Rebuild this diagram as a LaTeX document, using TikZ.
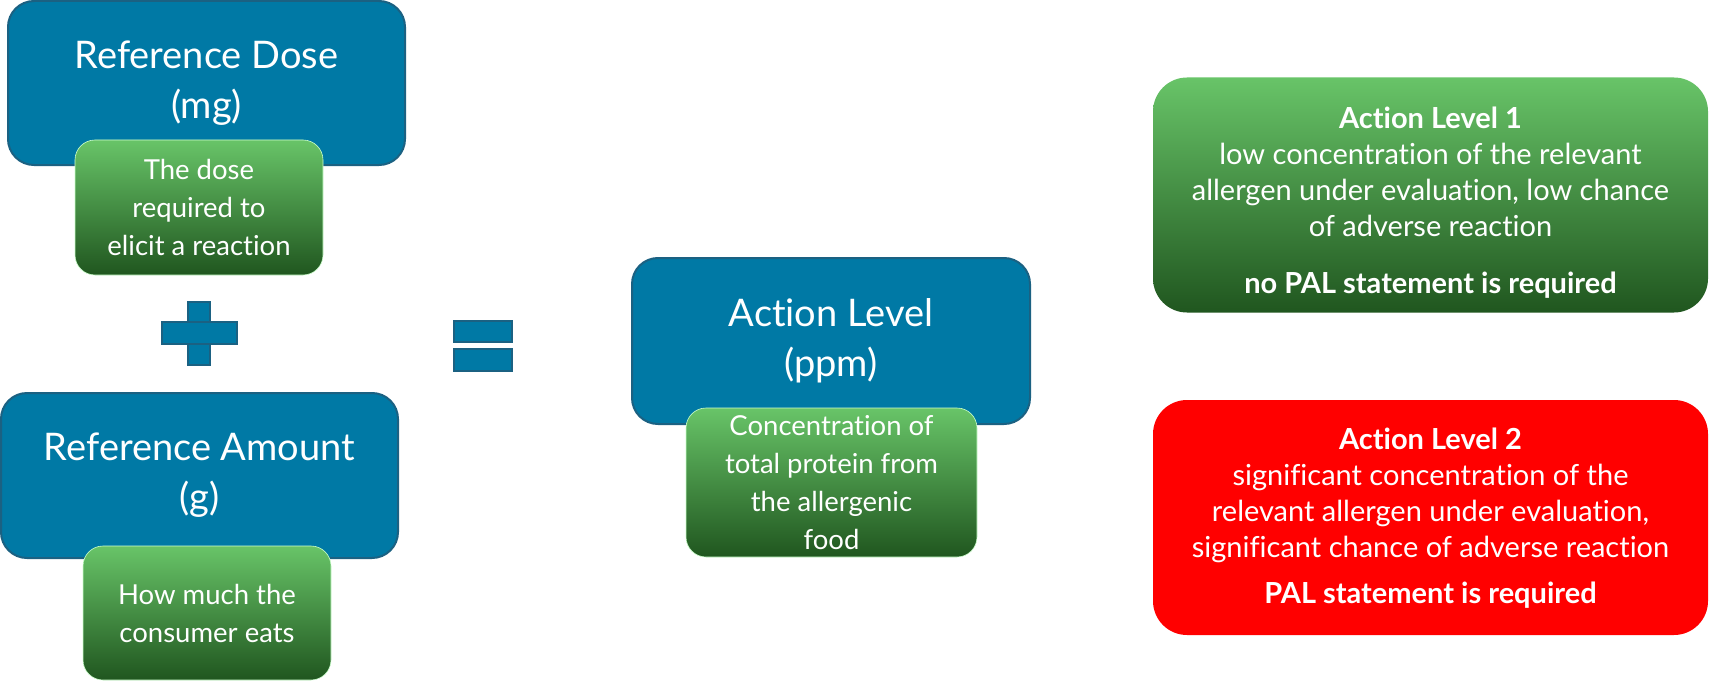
\documentclass[tikz,border=0pt]{standalone}
\usepackage{fontspec}
\setmainfont{Lato}[Ligatures=NoCommon]
\begin{document}
\begin{tikzpicture}[x=1pt,y=-1pt,
  bluebox/.style={rectangle, rounded corners=26pt, draw=blueedge, line width=2pt, fill=mainblue, text=white, align=center, inner sep=0pt, font=\fontsize{38}{50}\selectfont},
  greenbox/.style={rectangle, rounded corners=20pt, draw=white!80!green, line width=0.6pt, top color=gtop, bottom color=gbot, text=white, align=center, inner sep=0pt, font=\fontsize{27.5}{38}\selectfont},
  levelbox/.style={rectangle, rounded corners=34pt, inner sep=0pt, minimum width=555pt, minimum height=235pt},
  leveltext/.style={text=white, align=center, inner sep=0pt, font=\fontsize{29}{36}\selectfont},
  signpart/.style={draw=blueedge, line width=1.5pt, fill=mainblue}
]
\definecolor{mainblue}{HTML}{0079A5}
\definecolor{blueedge}{HTML}{1B6182}
\definecolor{gtop}{HTML}{68C468}
\definecolor{gbot}{HTML}{20561F}
\definecolor{alred}{HTML}{FF0000}
\useasboundingbox (0,0) rectangle (1710,682);

% Reference Dose
\node[bluebox, minimum width=397pt, minimum height=164pt] (rd) at (206.5,83) {Reference Dose\\(mg)};
\node[greenbox, minimum width=248pt, minimum height=135pt] (rdg) at (199,207.5) {The dose\\required to\\elicit a reaction};

% plus
\path[signpart] (188,302) rectangle (210,365);
\path[signpart] (162,322) rectangle (237,344);
\path[fill=mainblue] (189,323) rectangle (209,343);

% Reference Amount
\node[bluebox, minimum width=397pt, minimum height=165pt] (ra) at (199.5,475.5) {Reference Amount\\(g)};
\node[greenbox, minimum width=248pt, minimum height=134pt] (rag) at (207,613) {How much the\\consumer eats};

% equals
\path[signpart] (454,321) rectangle (512,342);
\path[signpart] (454,349) rectangle (512,371);

% Action level
\node[bluebox, minimum width=398pt, minimum height=166pt] (al) at (831,341) {Action Level\\(ppm)};
\node[greenbox, minimum width=291pt, minimum height=149pt] (alg) at (831.5,482.5) {Concentration of\\total protein from\\the allergenic\\food};

% Action Level 1
\node[levelbox, top color=gtop, bottom color=gbot] (al1) at (1430.5,195) {};
\node[leveltext] (al1t) at (1430.5,203)
 {\textbf{Action Level 1}\\low concentration of the relevant\\allergen under evaluation, low chance\\of adverse reaction\\[21pt]\textbf{no PAL statement is required}};

% Action Level 2
\node[levelbox, fill=alred] (al2) at (1430.5,517.5) {};
\node[leveltext] (al2t) at (1430.5,518)
 {\textbf{Action Level 2}\\significant concentration of the\\relevant allergen under evaluation,\\significant chance of adverse reaction\\[10pt]\textbf{PAL statement is required}};
\end{tikzpicture}
\end{document}
